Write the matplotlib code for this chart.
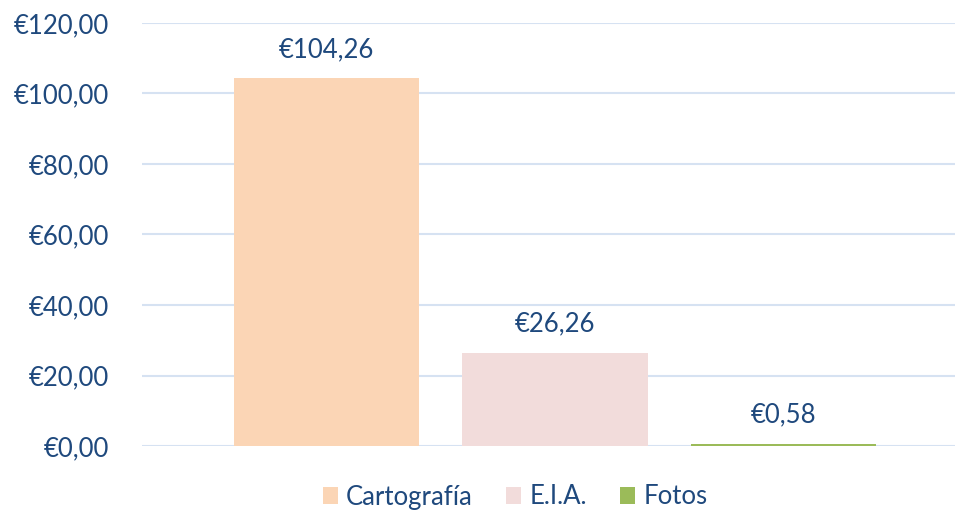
import matplotlib
matplotlib.use("Agg")
import matplotlib.pyplot as plt
from matplotlib.patches import Patch

categories = ["Cartografía", "E.I.A.", "Fotos"]
values = [104.26, 26.26, 0.58]
labels = ["€104,26", "€26,26", "€0,58"]
yticks = [0, 20, 40, 60, 80, 100, 120]
ytick_labels = ["€0,00", "€20,00", "€40,00", "€60,00", "€80,00", "€100,00", "€120,00"]

colors = ["#FBD5B5", "#F2DCDB", "#9BBB59"]
text_color = "#1F497D"
grid_color = "#D6E2F2"

plt.rcParams["font.family"] = ["Lato", "DejaVu Sans"]

fig = plt.figure(figsize=(9.55, 5.13), dpi=100)
ax = fig.add_axes([142 / 955, 67 / 513, 813 / 955, 423 / 513])

xs = list(range(len(categories)))
ax.bar(xs, values, width=0.81, color=colors, zorder=3)
for x, v, lab in zip(xs, values, labels):
    ax.annotate(lab, (x, v), xytext=(0, 12), textcoords="offset points",
                ha="center", va="bottom", fontsize=18.5, color=text_color)

ax.set_xlim(-0.807, 2.75)
ax.set_ylim(0, 120)
ax.set_yticks(yticks)
ax.set_yticklabels(ytick_labels, fontsize=18.5, color=text_color)
ax.set_xticks([])
ax.tick_params(axis="y", length=0, pad=24)
ax.grid(axis="y", color=grid_color, linewidth=1.5, zorder=0)
for s in ax.spines.values():
    s.set_visible(False)

handles = [Patch(facecolor=c, edgecolor="none") for c in colors]
fig.legend(handles, categories, loc="center", bbox_to_anchor=(515 / 955, 1 - 497 / 513),
           ncol=3, frameon=False, fontsize=18.5, labelcolor=text_color,
           handlelength=0.6, handleheight=0.6, handletextpad=0.3, columnspacing=1.3)

fig.savefig("out.png", dpi=100)
